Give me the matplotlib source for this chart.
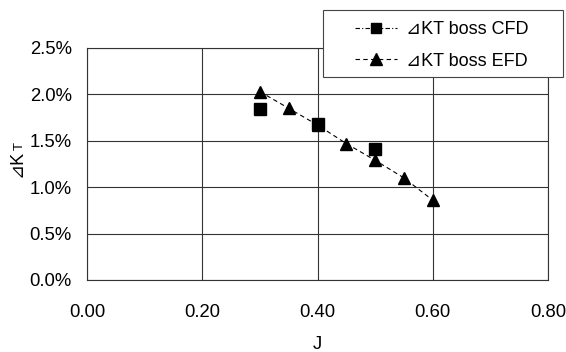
import matplotlib
matplotlib.use("Agg")
import matplotlib.pyplot as plt
from matplotlib.lines import Line2D
from matplotlib.patches import Rectangle
from matplotlib.ticker import FuncFormatter

plt.rcParams['font.family'] = ['Liberation Sans', 'DejaVu Sans']

cfd_j = [0.30, 0.40, 0.50]
cfd_kt = [1.84, 1.68, 1.41]
efd_j = [0.30, 0.35, 0.40, 0.45, 0.50, 0.55, 0.60]
efd_kt = [2.03, 1.85, 1.67, 1.47, 1.29, 1.10, 0.86]
xticks = [0.0, 0.2, 0.4, 0.6, 0.8]
yticks = [0.0, 0.5, 1.0, 1.5, 2.0, 2.5]

W, H = 566, 352
fig = plt.figure(figsize=(W / 100, H / 100), dpi=100)
ax = fig.add_axes([87 / W, 1 - 280 / H, (548 - 87) / W, (280 - 48) / H])

ax.plot(efd_j, efd_kt, color='black', linestyle=(0, (4, 3)), linewidth=0.8,
        marker='^', markersize=9, zorder=3)
ax.plot(cfd_j, cfd_kt, color='black', linestyle='none',
        marker='s', markersize=8, zorder=4)

ax.set_xlim(0, 0.8)
ax.set_ylim(0, 2.5)
ax.set_xticks(xticks)
ax.set_yticks(yticks)
ax.xaxis.set_major_formatter(FuncFormatter(lambda v, p: f"{v:.2f}"))
ax.yaxis.set_major_formatter(FuncFormatter(lambda v, p: f"{v:.1f}%"))
ax.grid(True, color='#333333', linewidth=0.8)
ax.tick_params(axis='x', length=0, labelsize=13.3, pad=17.5)
ax.tick_params(axis='y', length=0, labelsize=13.3, pad=11)
for s in ax.spines.values():
    s.set_color('#333333')
    s.set_linewidth(0.8)

ax.set_xlabel('J', fontsize=13.3, labelpad=10.5)

# y label: ⊿K with subscript T
fig.text(17 / W, 1 - 150 / H, '⊿K', rotation=90, fontsize=13,
         ha='center', va='top')
fig.text(26 / W, 1 - 150 / H, 'T', rotation=90, fontsize=9.5,
         ha='right', va='bottom')

# legend frame
fig.patches.append(Rectangle((323 / W, 1 - 77 / H), (563 - 323) / W, (77 - 10) / H,
                             transform=fig.transFigure, facecolor='white',
                             edgecolor='#444444', linewidth=0.8, zorder=5))
handles = [
    Line2D([], [], color='black', linestyle=(0, (4, 2, 1, 2)), linewidth=0.8,
           marker='s', markersize=7, label='⊿KT boss CFD'),
    Line2D([], [], color='black', linestyle=(0, (4, 3)), linewidth=0.8,
           marker='^', markersize=8.5, label='⊿KT boss EFD'),
]
leg = fig.legend(handles=handles, loc='upper left',
                 bbox_to_anchor=(355 / W, 1 - 21 / H), fontsize=13,
                 frameon=False, handlelength=2.3, borderpad=0,
                 labelspacing=0.82, handletextpad=0.5, borderaxespad=0)
leg.set_zorder(6)

fig.savefig('out.png', dpi=100)
